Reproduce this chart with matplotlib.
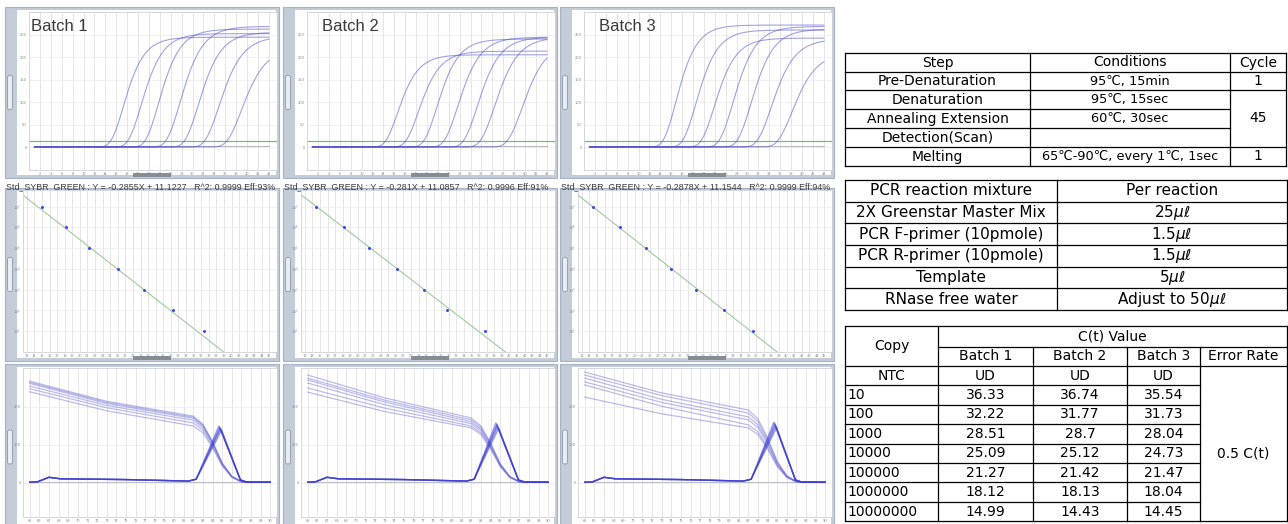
import matplotlib
matplotlib.use("Agg")
import matplotlib.pyplot as plt
from matplotlib.patches import Rectangle, FancyBboxPatch
import numpy as np

W, H = 1288, 524

# ---------------- data ----------------
batch_names = ["Batch 1", "Batch 2", "Batch 3"]
copy_labels = ["10", "100", "1000", "10000", "100000", "1000000", "10000000"]
log_copy = [1, 2, 3, 4, 5, 6, 7]

ct_batch1 = [36.33, 32.22, 28.51, 25.09, 21.27, 18.12, 14.99]
ct_batch2 = [36.74, 31.77, 28.7, 25.12, 21.42, 18.13, 14.43]
ct_batch3 = [35.54, 31.73, 28.04, 24.73, 21.47, 18.04, 14.45]
ct_all = [ct_batch1, ct_batch2, ct_batch3]

# plateau height (RFU) of each amplification curve
plateau_batch1 = [222, 246, 255, 268, 262, 252, 244]
plateau_batch2 = [235, 244, 244, 244, 240, 213, 205]
plateau_batch3 = [210, 240, 262, 268, 242, 260, 271]
plateau_all = [plateau_batch1, plateau_batch2, plateau_batch3]
rise_width = [2.6, 2.5, 2.4, 2.4, 2.3, 2.3, 2.2]
threshold = 14
ntc_level = 3

std_slope = [-0.2855, -0.281, -0.2878]
std_intercept = [11.1227, 11.0857, 11.1544]
std_r2 = ["0.9999", "0.9996", "0.9999"]
std_eff = [93, 91, 94]

# melt curves: fluorescence at 65, 73 and 82 C, then the drop
melt_temp = [65, 73, 82]
melt_batch1 = [[268, 215, 176], [265, 212, 173], [262, 209, 170], [255, 204, 165], [248, 198, 158], [240, 190, 150]]
melt_batch2 = [[284, 224, 171], [276, 218, 166], [271, 213, 161], [263, 206, 156], [250, 197, 150], [239, 188, 145]]
melt_batch3 = [[292, 237, 192], [284, 230, 184], [276, 220, 174], [266, 212, 166], [258, 202, 153], [226, 182, 145]]
melt_all = [melt_batch1, melt_batch2, melt_batch3]
drop_temp = [83, 84, 85, 86, 87, 90]
drop_frac = [0.88, 0.62, 0.3, 0.1, 0.02, 0.01]

# derivative (-dF/dT) curves
deriv_temp_lo = [65, 65.8, 67, 68.2, 75, 81.5, 82.3]
deriv_val_lo = [2, 3, 15, 11, 9, 5, 10]
deriv_temp_hi = [86.9, 87.6, 90]
deriv_val_hi = [8, 2, 2]
peak_temp = [84.8, 84.7, 84.8]
peak_batch1 = [150, 147, 145, 142, 139]
peak_batch2 = [158, 155, 152, 148, 144]
peak_batch3 = [160, 157, 153, 149, 146]
peak_all = [peak_batch1, peak_batch2, peak_batch3]
peak_shift = [-0.15, -0.05, 0.0, 0.05, 0.15]

# tables
steps = ["Step", "Pre-Denaturation", "Denaturation", "Annealing Extension", "Detection(Scan)", "Melting"]
conditions = ["Conditions", "95\u2103, 15min", "95\u2103, 15sec", "60\u2103, 30sec", "",
              "65\u2103-90\u2103, every 1\u2103, 1sec"]
mixture = ["PCR reaction mixture", "2X Greenstar Master Mix", "PCR F-primer (10pmole)",
           "PCR R-primer (10pmole)", "Template", "RNase free water"]
per_reaction = ["Per reaction", r"25$\mu\ell$", r"1.5$\mu\ell$", r"1.5$\mu\ell$", r"5$\mu\ell$",
                r"Adjust to 50$\mu\ell$"]

# ---------------- figure ----------------
plt.rcParams["font.family"] = ["DejaVu Sans"]
fig = plt.figure(figsize=(W / 100, H / 100), dpi=100)

bg = fig.add_axes([0, 0, 1, 1], zorder=0)
bg.set_xlim(0, W)
bg.set_ylim(H, 0)
bg.axis("off")


def px_axes(x0, y0, x1, y1):
    return fig.add_axes([x0 / W, 1 - y1 / H, (x1 - x0) / W, (y1 - y0) / H], zorder=2)


def style(ax, xt, yt, ylabels=None):
    ax.set_facecolor("white")
    for s in ax.spines.values():
        s.set_color("#cdd2d8")
        s.set_linewidth(0.6)
    ax.set_xticks(xt)
    ax.set_yticks(yt)
    if ylabels is not None:
        ax.set_yticklabels(ylabels)
    ax.tick_params(length=0, labelsize=2.6, labelcolor="#8a8a8a", pad=1.5)
    ax.grid(True, axis="x", color="#e0e0e0", lw=0.6)
    ax.grid(True, axis="y", color="#ececec", lw=0.5)
    ax.set_axisbelow(True)


frame_left = [5, 283, 560]
row_frames = [(7, 178), (188, 361), (364, 530)]
frame_c = "#c3cdd9"
for L in frame_left:
    for r, (y0, y1) in enumerate(row_frames):
        bg.add_patch(Rectangle((L, y0), 274, y1 - y0, fc=frame_c, ec="#a7b3c2", lw=0.8))
        bg.add_patch(Rectangle((L + 12, y0 + 3), 259, y1 - y0 - 6, fc="white", ec="none"))
        ym = (y0 + y1) / 2
        bg.add_patch(FancyBboxPatch((L + 2.5, ym - 17), 5, 34, boxstyle="round,pad=0,rounding_size=2",
                                    fc="#e9edf1", ec="#8f9aa8", lw=0.6))
        if r < 2:
            bg.add_patch(Rectangle((L + 128, y1 - 5), 38, 4, fc="#858d97", ec="none"))

# ---- row 1: amplification ----
x_cyc = np.linspace(1, 44, 400)
for c in range(3):
    L = frame_left[c]
    ax = px_axes(L + 24, 12, L + 272, 170)
    ax.set_xlim(0, 45.5)
    ax.set_ylim(-51, 300)
    style(ax, np.arange(2, 46, 2), [0, 50, 100, 150, 200, 250])
    ax.axhline(threshold, color="#70c070", lw=0.9, zorder=1)
    ax.plot(x_cyc, np.full_like(x_cyc, ntc_level), color="#b8b8c0", lw=0.8)
    for ct, plat, k in zip(ct_all[c], plateau_all[c], rise_width):
        # Gompertz shape passing through the threshold at the reported Ct
        mid = ct + k * np.log(np.log(plat / threshold))
        ax.plot(x_cyc, plat * np.exp(-np.exp(-(x_cyc - mid) / k)), color="#5555cc", lw=0.8, alpha=0.55)
    tx = 0.008 if c == 0 else 0.06
    ax.text(tx, 0.91, batch_names[c], transform=ax.transAxes, fontsize=12, color="#3a3a3a",
            family="Liberation Sans", va="center", ha="left")

# ---- row 2: standard curves ----
for c in range(3):
    L = frame_left[c]
    ax = px_axes(L + 18, 190, L + 272, 352)
    ax.set_xlim(12.5, 46)
    ax.set_ylim(0, 7.8)
    style(ax, np.arange(13, 46, 1), log_copy, [r"$10^{%d}$" % v for v in log_copy])
    xs = np.array(ax.get_xlim())
    ax.plot(xs, std_slope[c] * xs + std_intercept[c], color="#9ccc9c", lw=0.8)
    ax.plot(ct_all[c], log_copy, "o", color="#4646e6", ms=2.2, mec="none")
    ax.set_xlim(12.5, 46)
    ax.set_ylim(0, 7.8)
    title = "Std_SYBR_GREEN : Y = %sX + %s   R^2: %s Eff:%d%%" % (
        std_slope[c], std_intercept[c], std_r2[c], std_eff[c])
    bg.text(L + 1, 186.5, title, fontsize=6.4, color="#3a3a3a", family="Liberation Sans",
            ha="left", va="center")

# ---- row 3: melt curves ----
for c in range(3):
    L = frame_left[c]
    ax = px_axes(L + 18, 368, L + 272, 517)
    ax.set_xlim(64.3, 90.7)
    ax.set_ylim(-89.5, 302.6)
    style(ax, np.arange(65, 91, 1), [0, 100, 200])
    ax.plot([65, 90], [ntc_level, ntc_level], color="#c0c0c8", lw=0.8)
    for vals in melt_all[c]:
        xs = melt_temp + drop_temp
        ys = vals + [vals[-1] * f for f in drop_frac]
        ax.plot(xs, ys, color="#6a6ad4", lw=0.9, alpha=0.45)
    for h, dt in zip(peak_all[c], peak_shift):
        xs = deriv_temp_lo + [peak_temp[c] + dt] + deriv_temp_hi
        ys = deriv_val_lo + [h] + deriv_val_hi
        ax.plot(xs, ys, color="#3c3cd0", lw=1.0, alpha=0.5)

# ---------------- tables ----------------
lc = "black"
lw = 0.9
f1, f1c, f2, f3 = 10, 9.3, 11, 10

# table 1
t1x = [845, 1030, 1230, 1286]
t1y = [53, 72, 90, 109, 128, 147, 166]
for y in t1y:
    x_end = t1x[2] if y in (109, 128) else t1x[3]
    bg.plot([t1x[0], x_end], [y, y], color=lc, lw=lw)
for x in t1x:
    bg.plot([x, x], [t1y[0], t1y[-1]], color=lc, lw=lw)
for i in range(6):
    yc = (t1y[i] + t1y[i + 1]) / 2
    bg.text((t1x[0] + t1x[1]) / 2, yc, steps[i], ha="center", va="center", fontsize=f1)
    bg.text((t1x[1] + t1x[2]) / 2, yc, conditions[i], ha="center", va="center",
            fontsize=f1 if i == 0 else f1c)
cyc_mid = (t1x[2] + t1x[3]) / 2
bg.text(cyc_mid, (t1y[0] + t1y[1]) / 2, "Cycle", ha="center", va="center", fontsize=f1)
bg.text(cyc_mid, (t1y[1] + t1y[2]) / 2, "1", ha="center", va="center", fontsize=f1)
bg.text(cyc_mid, (t1y[2] + t1y[5]) / 2, "45", ha="center", va="center", fontsize=f1)
bg.text(cyc_mid, (t1y[5] + t1y[6]) / 2, "1", ha="center", va="center", fontsize=f1)

# table 2
t2x = [845, 1057, 1287]
t2y = [180 + 21.67 * i for i in range(7)]
for y in t2y:
    bg.plot([t2x[0], t2x[-1]], [y, y], color=lc, lw=lw)
for x in t2x:
    bg.plot([x, x], [t2y[0], t2y[-1]], color=lc, lw=lw)
for i in range(6):
    yc = (t2y[i] + t2y[i + 1]) / 2
    bg.text((t2x[0] + t2x[1]) / 2, yc, mixture[i], ha="center", va="center", fontsize=f2)
    bg.text((t2x[1] + t2x[2]) / 2, yc, per_reaction[i], ha="center", va="center", fontsize=f2)

# table 3
t3x = [845, 938, 1033, 1127, 1200, 1287]
t3_top, t3_mid, t3_head = 326, 347, 366
t3y = [t3_head + 19.4 * i for i in range(9)]
bg.plot([t3x[0], t3x[-1]], [t3_top, t3_top], color=lc, lw=lw)
bg.plot([t3x[1], t3x[-1]], [t3_mid, t3_mid], color=lc, lw=lw)
bg.plot([t3x[0], t3x[-1]], [t3y[0], t3y[0]], color=lc, lw=lw)
for y in t3y[1:-1]:
    bg.plot([t3x[0], t3x[4]], [y, y], color=lc, lw=lw)
bg.plot([t3x[0], t3x[-1]], [t3y[-1], t3y[-1]], color=lc, lw=lw)
for x in (t3x[0], t3x[1], t3x[-1]):
    bg.plot([x, x], [t3_top, t3y[-1]], color=lc, lw=lw)
for x in t3x[2:5]:
    bg.plot([x, x], [t3_mid, t3y[-1]], color=lc, lw=lw)
bg.text((t3x[0] + t3x[1]) / 2, (t3_top + t3_head) / 2, "Copy", ha="center", va="center", fontsize=f3)
bg.text((t3x[1] + t3x[-1]) / 2, (t3_top + t3_mid) / 2, "C(t) Value", ha="center", va="center", fontsize=f3)
for j, name in enumerate(batch_names):
    bg.text((t3x[j + 1] + t3x[j + 2]) / 2, (t3_mid + t3_head) / 2, name, ha="center", va="center", fontsize=f3)
bg.text((t3x[4] + t3x[5]) / 2, (t3_mid + t3_head) / 2, "Error Rate", ha="center", va="center", fontsize=f3)
yc = (t3y[0] + t3y[1]) / 2
bg.text((t3x[0] + t3x[1]) / 2, yc, "NTC", ha="center", va="center", fontsize=f3)
for j in range(3):
    bg.text((t3x[j + 1] + t3x[j + 2]) / 2, yc, "UD", ha="center", va="center", fontsize=f3)
for i, lab in enumerate(copy_labels):
    yc = (t3y[i + 1] + t3y[i + 2]) / 2
    bg.text(t3x[0] + 2, yc, lab, ha="left", va="center", fontsize=f3)
    for j in range(3):
        bg.text((t3x[j + 1] + t3x[j + 2]) / 2, yc, str(ct_all[j][i]), ha="center", va="center", fontsize=f3)
bg.text((t3x[4] + t3x[5]) / 2, (t3y[1] + t3y[-1]) / 2, "0.5 C(t)", ha="center", va="center", fontsize=f3)

fig.savefig("out.png", dpi=100)
